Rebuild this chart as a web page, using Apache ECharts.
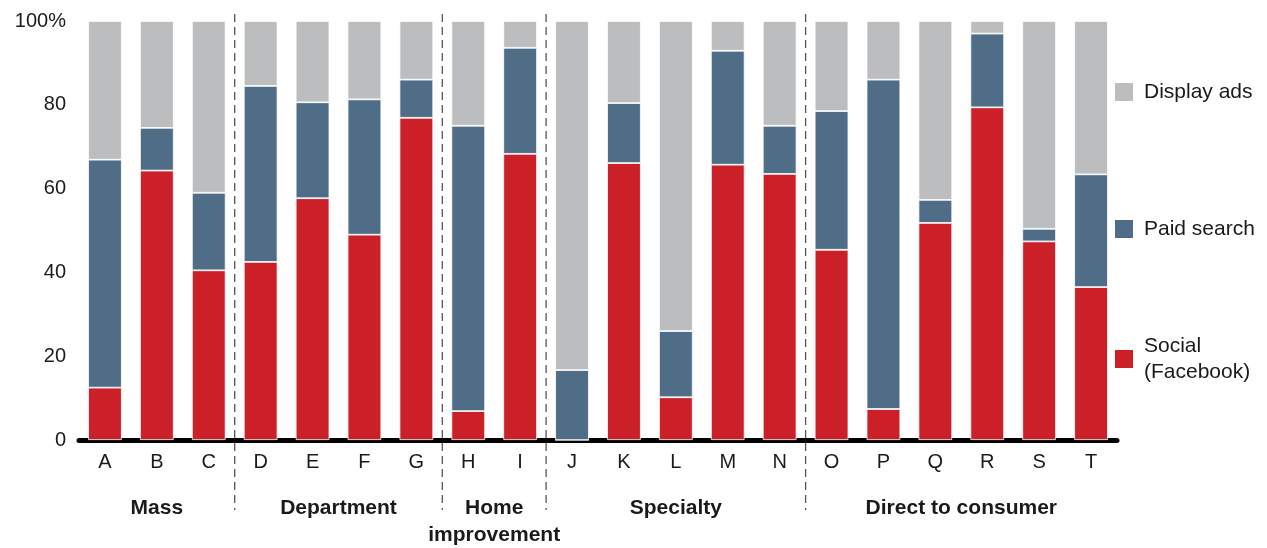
<!DOCTYPE html>
<html>
<head>
<meta charset="utf-8">
<script src="https://cdn.jsdelivr.net/npm/echarts@6/dist/echarts.min.js"></script>
<style>
html,body{margin:0;padding:0;background:#fff;}
#chart{width:1267px;height:548px;}
</style>
</head>
<body>
<div id="chart"></div>
<script>
// ---- data ----
var categories = ['A','B','C','D','E','F','G','H','I','J','K','L','M','N','O','P','Q','R','S','T'];
var socialValues  = [12.5, 64.3, 40.5, 42.5, 57.7, 49.0, 76.9, 6.9, 68.3, 0.0, 66.1, 10.2, 65.7, 63.5, 45.4, 7.4, 51.8, 79.4, 47.4, 36.5];
var paidValues    = [54.4, 10.2, 18.5, 42.0, 22.9, 32.3, 9.1, 68.1, 25.3, 16.7, 14.3, 15.8, 27.2, 11.5, 33.1, 78.6, 5.5, 17.6, 3.0, 26.9];
var displayValues = [33.1, 25.5, 41.0, 15.5, 19.4, 18.7, 14.0, 25.0, 6.4, 83.3, 19.6, 74.0, 7.1, 25.0, 21.5, 14.0, 42.7, 3.0, 49.6, 36.6];
var yTicks = [0, 20, 40, 60, 80, 100];
var groupNames  = ['Mass', 'Department', 'Home\nimprovement', 'Specialty', 'Direct to consumer'];
var groupFirst  = [0, 3, 7, 9, 14];   // index of first category in group
var groupLast   = [2, 6, 8, 13, 19];  // index of last category in group
var seriesNames = ['Social\n(Facebook)', 'Paid search', 'Display ads'];

// ---- styles ----
var FONT = 'Liberation Sans, Arial, Helvetica, sans-serif';
var RED = '#CC2029', BLUE = '#4F6D87', GREY = '#BCBDBF';
var TXT = '#1a1a1a';

var chart = echarts.init(document.getElementById('chart'), null, {renderer: 'canvas'});

function barSeries(name, data, color) {
  return {
    name: name, type: 'bar', stack: 'total', data: data, barWidth: '65%',
    itemStyle: {color: color, borderColor: '#ffffff', borderWidth: 0.8},
    emphasis: {disabled: true}
  };
}

function legendFor(name, top, extraPad) {
  return {
    data: [name], left: 1113, top: top, orient: 'vertical', padding: 0,
    itemWidth: 20, itemHeight: 20, icon: 'rect', selectedMode: false,
    textStyle: {fontFamily: FONT, fontSize: 21, color: TXT, lineHeight: 26,
                padding: [extraPad, 0, 0, 5]}
  };
}

var option = {
  animation: false,
  backgroundColor: '#ffffff',
  grid: {left: 79, right: 150, top: 21, bottom: 108, containLabel: false},
  xAxis: {
    type: 'category', data: categories, offset: 2,
    axisLine: {show: true, lineStyle: {color: '#000', width: 5}},
    axisTick: {show: false},
    axisLabel: {fontFamily: FONT, fontSize: 20, color: TXT, margin: 10}
  },
  yAxis: {
    type: 'value', min: 0, max: 100, interval: 20,
    axisLine: {show: false}, axisTick: {show: false}, splitLine: {show: false},
    axisLabel: {
      fontFamily: FONT, fontSize: 20, color: TXT, margin: 13,
      padding: [0, 0, 7, 0],
      formatter: function (v) { return yTicks.indexOf(v) >= 0 ? (v === 100 ? '100%' : String(v)) : ''; }
    }
  },
  legend: [
    legendFor('Display ads', 79, 0),
    legendFor('Paid search', 216, 0),
    legendFor('Social\n(Facebook)', 320, 26)
  ],
  series: [
    barSeries(seriesNames[0], socialValues, RED),
    barSeries(seriesNames[1], paidValues, BLUE),
    barSeries(seriesNames[2], displayValues, GREY)
  ]
};
chart.setOption(option);

// separators and group labels from the axis scale
function px(i) { return chart.convertToPixel({xAxisIndex: 0}, i); }
var graphics = [];
for (var g = 0; g < groupNames.length; g++) {
  var x0 = px(groupFirst[g]), x1 = px(groupLast[g]);
  graphics.push({
    type: 'text', x: (x0 + x1) / 2, y: 494.5, silent: true,
    style: {text: groupNames[g], fontFamily: FONT, fontSize: 21, fontWeight: 'bold',
            fill: TXT, align: 'center', verticalAlign: 'top', lineHeight: 27}
  });
  if (g > 0) {
    var bx = (px(groupFirst[g] - 1) + x0) / 2;
    graphics.push({
      type: 'line', silent: true, z: 10,
      shape: {x1: bx, y1: 14, x2: bx, y2: 510},
      style: {stroke: '#555', lineWidth: 1.3, lineDash: [8, 5]}
    });
  }
}
chart.setOption({graphic: graphics});
</script>
</body>
</html>
